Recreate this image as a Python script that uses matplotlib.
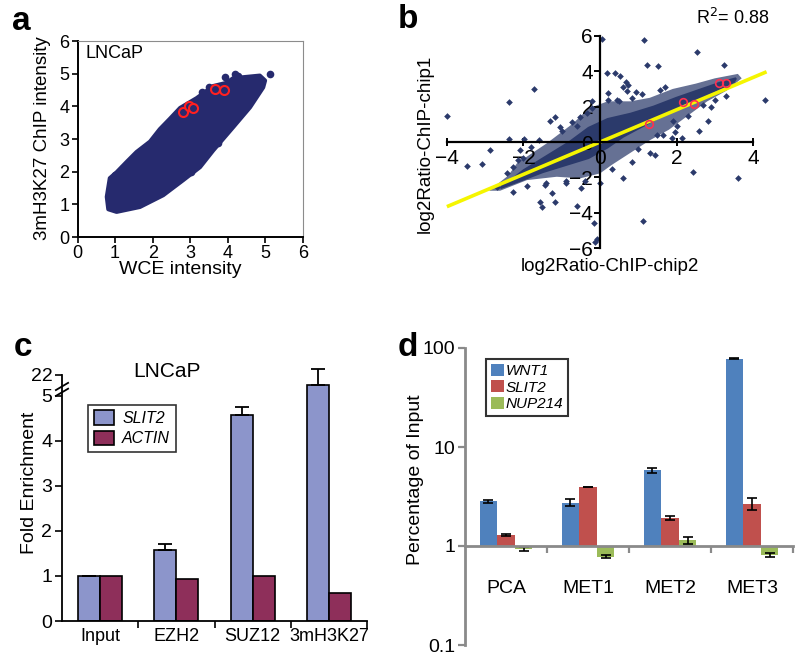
import numpy as np
import matplotlib.pyplot as plt
import matplotlib.transforms as mtransforms
from matplotlib.patches import Polygon

plt.rcParams['font.family'] = ['Liberation Sans', 'DejaVu Sans']

# ---- panel a: WCE vs ChIP intensity (dense cloud outline + stray points)
a_cloud_x = [0.78, 0.82, 1.04, 1.66, 2.28, 2.81, 3.26, 3.61, 4.14, 4.59, 4.94, 4.99,
             4.85, 4.14, 3.97, 3.61, 3.17, 2.73, 2.46, 2.19, 1.93, 1.57, 1.31, 1.04, 0.86]
a_cloud_y = [1.23, 0.85, 0.77, 0.92, 1.28, 1.74, 2.14, 2.65, 3.36, 3.97, 4.58, 4.79,
             4.94, 4.86, 4.72, 4.62, 4.25, 3.95, 3.62, 3.3, 2.92, 2.6, 2.3, 1.98, 1.8]
a_pts_x = [5.12, 4.19, 4.28, 3.92, 2.68, 2.97, 3.02, 3.70, 3.75, 1.0, 1.2, 3.5, 3.3]
a_pts_y = [4.99, 4.99, 4.94, 4.89, 1.76, 2.01, 1.99, 2.91, 2.88, 1.9, 2.1, 4.6, 4.45]
a_red_x = [3.66, 3.90, 2.80, 2.97, 3.06]
a_red_y = [4.53, 4.50, 3.82, 4.00, 3.94]

# ---- panel b: log2 ratio chip1 vs chip2
# sparse halo around the dense core, then the dense core itself
b_halo_x = [-2.9, -2.4, -2.17, -1.39, -0.70, -0.3, 0.2, 0.8, 1.3, 1.9, 2.5, 3.0, 3.6,
            3.7, 3.3, 2.8, 2.3, 1.8, 1.3, 0.8, 0.3, 0.0, -0.52, -1.13, -1.91, -2.61]
b_halo_y = [-2.75, -1.9, -1.2, -0.07, 1.06, 1.9, 2.3, 2.3, 2.5, 3.0, 3.3, 3.6, 3.85,
            3.6, 2.9, 2.3, 1.5, 0.7, 0.1, -0.6, -1.3, -1.77, -2.05, -1.96, -2.15, -2.75]
b_core_x = [-2.6, -2.0, -1.4, -0.8, -0.3, 0.2, 0.8, 1.4, 2.0, 2.6, 3.2, 3.55,
            3.5, 3.0, 2.4, 1.8, 1.2, 0.6, 0.2, -0.3, -0.9, -1.5, -2.1]
b_core_y = [-2.6, -1.6, -0.8, 0.0, 0.8, 1.3, 1.6, 2.0, 2.5, 2.95, 3.4, 3.6,
            3.4, 2.9, 2.3, 1.7, 1.0, 0.3, -0.3, -0.9, -1.3, -1.7, -2.2]
b_pts_x = [-3.99, -3.48, -3.09, -2.87, -2.39, -2.39, -1.98, -1.72, -2.28, -1.57, -1.52, -1.17,
           -1.26, -1.44, -0.61, -0.17, -0.13, -1.31, -1.17, -2.09, -2.13, -2.57, -2.70, -0.35,
           -0.74, 0.04, 1.16, 2.52, 1.22, 1.51, 3.24, 0.17, 0.39, 0.52, 0.68, 0.74, 0.61, 0.94,
           1.70, 1.57, 0.22, 0.44, 0.83, 4.31, 2.83, 2.59, 2.15, 1.44, 1.31, 0.83, 0.61, 2.44,
           3.61, 1.13, 0.0, -0.09, 1.87, 1.96, 1.65, -1.0, -0.9, -0.5, 0.3, 0.5, 1.0, -1.6, -2.0,
           -0.2, 1.9, 2.3, 1.1, 0.7, -0.6, 2.7, 3.0, -1.04, -0.52, -0.22, -2.44, -2.27, -1.8,
           -0.9, -0.4, 0.2, 1.5, 2.0, 2.9, 3.3, -1.9, -1.4]
b_pts_y = [1.47, -1.36, -1.24, -0.45, 2.24, 0.15, 0.15, 2.99, -2.81, -3.41, -3.65, -3.41,
           -2.90, -2.43, -3.62, -4.60, -5.63, 1.20, 1.39, -0.45, -1.02, -2.37, -2.52, 1.66,
           1.15, 5.80, 5.76, 5.07, 4.37, 4.29, 4.37, 3.88, 3.92, 3.73, 3.41, 3.22, 3.12, 2.84,
           3.12, 2.94, 2.75, 2.37, 2.47, 2.37, 1.20, 0.64, 0.21, -0.73, -0.64, -1.11, -2.05, -1.68,
           -2.01, -4.46, -2.30, -5.50, 0.21, 0.58, 0.40, 0.6, -2.2, -2.6, -1.5, 2.3, -0.4, 0.1, -0.9,
           2.3, 1.2, 1.5, 2.7, 2.9, 0.9, 2.1, 2.4, 0.86, 1.4, 1.9, -1.77, -1.4, -0.3,
           -2.3, -2.2, 2.4, 0.4, 0.9, 2.0, 2.6, -2.5, -2.3]
b_red_x = [2.16, 2.46, 3.11, 3.29, 1.29]
b_red_y = [2.24, 2.15, 3.31, 3.31, 1.00]
b_fit_x = [-4.0, 4.35]
b_fit_y = [-3.65, 3.97]

# ---- panel c: LNCaP ChIP fold enrichment (upper part of axis broken, 22 on top)
c_groups = ['Input', 'EZH2', 'SUZ12', '3mH3K27']
c_slit2 = [1.0, 1.57, 4.58, 5.24]
c_slit2_err = [0, 0.14, 0.18, 0.36]
c_actin = [1.0, 0.93, 1.0, 0.62]
c_yticks = [0, 1, 2, 3, 4, 5, 5.47]
c_yticklabels = ['0', '1', '2', '3', '4', '5', '22']

# ---- panel d: percentage of input in tissues
d_groups = ['PCA', 'MET1', 'MET2', 'MET3']
d_wnt1 = [2.82, 2.75, 5.84, 77.6]
d_wnt1_err = [0.12, 0.2, 0.35, 0.8]
d_slit2 = [1.29, 3.95, 1.92, 2.67]
d_slit2_err = [0.04, 0.04, 0.08, 0.35]
d_nup = [0.93, 0.78, 1.14, 0.81]
d_nup_err = [0.05, 0.025, 0.1, 0.035]

W, H = 800, 657
fig = plt.figure(figsize=(W / 100, H / 100), dpi=100)


def rect(l, t, r, b):
    return [l / W, 1 - b / H, (r - l) / W, (b - t) / H]


navy = '#262a6e'

# ================= a
ax = fig.add_axes(rect(77.5, 41, 303, 237))
ax.add_patch(Polygon(np.column_stack([a_cloud_x, a_cloud_y]), closed=True,
                     facecolor=navy, edgecolor=navy, lw=3, joinstyle='round'))
ax.plot(a_pts_x, a_pts_y, 'o', color=navy, ms=5.5, mec='none')
ax.plot(a_red_x, a_red_y, 'o', mfc=navy, mec='#ff2020', ms=6.5, mew=1.5)
ax.set_xlim(0, 6)
ax.set_ylim(0, 6)
ax.set_xticks(range(7))
ax.set_yticks(range(7))
ax.tick_params(labelsize=13, length=4, width=1.2, pad=2)
for s in ['top', 'right']:
    ax.spines[s].set_color('#8c8c8c')
for s in ['left', 'bottom']:
    ax.spines[s].set_linewidth(1.4)
ax.text(0.2, 5.62, 'LNCaP', fontsize=13, va='center')
fig.text(180 / W, 1 - 270 / H, 'WCE intensity', fontsize=14, ha='center', va='center')
fig.text(43 / W, 1 - 138 / H, '3mH3K27 ChIP intensity', fontsize=13.5, ha='center',
         va='center', rotation=90)
fig.text(12 / W, 1 - 22 / H, 'a', fontsize=24, fontweight='bold', va='center')

# ================= b
bnavy = '#2b3a6b'
bx = fig.add_axes(rect(440, 30, 775, 255))
bx.add_patch(Polygon(np.column_stack([b_halo_x, b_halo_y]), closed=True,
                     facecolor=bnavy, edgecolor='none', alpha=0.72))
bx.add_patch(Polygon(np.column_stack([b_core_x, b_core_y]), closed=True,
                     facecolor=bnavy, edgecolor=bnavy, lw=1.5))
bx.plot(b_pts_x, b_pts_y, 'D', color=bnavy, ms=3.4, mec='none')
bx.plot(b_fit_x, b_fit_y, color='#f5f500', lw=2.6, solid_capstyle='butt')
bx.plot(b_red_x, b_red_y, 'o', mfc='none', mec='#ff3050', ms=5.5, mew=1.2)
bx.set_xlim(-4.18, 4.57)
bx.set_ylim(-6.38, 6.33)
for s in ['top', 'right']:
    bx.spines[s].set_visible(False)
bx.spines['left'].set_position(('data', 0))
bx.spines['bottom'].set_position(('data', 0))
bx.spines['left'].set_bounds(-6, 6)
bx.spines['bottom'].set_bounds(-4, 4)
bx.spines['left'].set_linewidth(1.6)
bx.spines['bottom'].set_linewidth(1.6)
bx.set_xticks([-4, -2, 0, 2, 4])
bx.set_yticks([-6, -4, -2, 0, 2, 4, 6])
bx.tick_params(axis='x', direction='inout', length=6, width=1.4, labelsize=15, pad=2)
bx.tick_params(axis='y', direction='out', length=4, width=1.4, labelsize=15, pad=1)
fig.text(733 / W, 1 - 18 / H, 'R$^2$= 0.88', fontsize=13, ha='center', va='center')
fig.text(610 / W, 1 - 267 / H, 'log2Ratio-ChIP-chip2', fontsize=13.5, ha='center', va='center')
fig.text(425 / W, 1 - 144 / H, 'log2Ratio-ChIP-chip1', fontsize=13.5, ha='center',
         va='center', rotation=90)
fig.text(398 / W, 1 - 20 / H, 'b', fontsize=24, fontweight='bold', va='center')

# ================= c
cx = fig.add_axes(rect(62, 368, 367, 621))
xc = np.arange(len(c_groups)) + 0.5
bw = 0.29
cx.bar(xc - bw / 2, c_slit2, bw, color='#8c95cb', edgecolor='black', lw=1.2, label='SLIT2')
cx.bar(xc + bw / 2, c_actin, bw, color='#8e2f5a', edgecolor='black', lw=1.2, label='ACTIN')
errs = [[0] * 4, c_slit2_err]
cx.errorbar(xc - bw / 2, c_slit2, yerr=errs, fmt='none', ecolor='black', elinewidth=1.3,
            capsize=5, capthick=1.3, clip_on=False)
cx.set_xlim(0, 4)
cx.set_ylim(0, 5.62)
cx.spines['top'].set_visible(False)
cx.spines['right'].set_visible(False)
cx.spines['left'].set_bounds(0, 5.47)
cx.spines['left'].set_linewidth(1.3)
cx.spines['bottom'].set_linewidth(1.3)
cx.set_yticks(c_yticks)
cx.set_yticklabels(c_yticklabels)
cx.set_xticks([1, 2, 3, 4])
cx.set_xticklabels([])
cx.tick_params(labelsize=14, length=5, width=1.2, pad=2)
for i, g in enumerate(c_groups):
    cx.text(xc[i], -0.15, g, fontsize=13, ha='center', va='top')
# axis break marks
tr = mtransforms.blended_transform_factory(cx.transAxes, cx.transData)
for dy in (0, 0.13):
    cx.plot([-0.02, 0.02], [5.0 + dy, 5.16 + dy], color='black', lw=1.3, transform=tr,
            clip_on=False)
cx.text(1.38, 5.55, 'LNCaP', fontsize=15, ha='center', va='center')
leg = cx.legend(loc='upper left', bbox_to_anchor=(0.085, 0.855), borderaxespad=0,
                prop={'size': 11.5, 'style': 'italic'},
                frameon=True, fancybox=False, edgecolor='black', handlelength=1.3,
                handleheight=1.0, borderpad=0.35, labelspacing=0.3, handletextpad=0.5)
leg.get_frame().set_linewidth(1.2)
fig.text(30 / W, 1 - 483 / H, 'Fold Enrichment', fontsize=14, ha='center', va='center',
         rotation=90)
fig.text(14 / W, 1 - 348 / H, 'c', fontsize=24, fontweight='bold', va='center')

# ================= d
dx = fig.add_axes(rect(465, 348, 793, 645))
dx.set_yscale('log')
xd = np.arange(len(d_groups)) + 0.5
dw = 0.215
series = [(d_wnt1, d_wnt1_err, '#4f81bd', 'WNT1', -dw),
          (d_slit2, d_slit2_err, '#c0504d', 'SLIT2', 0),
          (d_nup, d_nup_err, '#9bbb59', 'NUP214', dw)]
for vals, err, col, lab, off in series:
    v = np.array(vals)
    dx.bar(xd + off, v - 1, dw, bottom=1, color=col, label=lab)
    dx.errorbar(xd + off, v, yerr=err, fmt='none', ecolor='black', elinewidth=1.2,
                capsize=3.5, capthick=1.2)
dx.set_xlim(0, 4)
dx.set_ylim(0.1, 100)
gray = '#8a8a8a'
dx.spines['top'].set_visible(False)
dx.spines['right'].set_visible(False)
dx.spines['bottom'].set_position(('data', 1))
for s in ['left', 'bottom']:
    dx.spines[s].set_color(gray)
    dx.spines[s].set_linewidth(2)
dx.set_yticks([0.1, 1, 10, 100])
dx.set_yticklabels(['0.1', '1', '10', '100'])
dx.yaxis.set_minor_locator(plt.NullLocator())
dx.set_xticks([1, 2, 3, 4])
dx.set_xticklabels([])
dx.tick_params(colors=gray, labelcolor='black', labelsize=14, length=5, width=1.6, pad=2)
trd = mtransforms.blended_transform_factory(dx.transData, dx.transAxes)
for i, g in enumerate(d_groups):
    dx.text(xd[i], 0.19, g, fontsize=14, ha='center', va='center', transform=trd)
leg = dx.legend(loc='upper left', bbox_to_anchor=(0.064, 0.963), borderaxespad=0,
                prop={'size': 11, 'style': 'italic'},
                frameon=True, fancybox=False, edgecolor='black', handlelength=0.85,
                handleheight=0.85, borderpad=0.3, labelspacing=0.15, handletextpad=0.15)
leg.get_frame().set_linewidth(1.5)
fig.text(415 / W, 1 - 480 / H, 'Percentage of Input', fontsize=14, ha='center', va='center',
         rotation=90)
fig.text(398 / W, 1 - 348 / H, 'd', fontsize=24, fontweight='bold', va='center')

fig.savefig('out.png', dpi=100)
